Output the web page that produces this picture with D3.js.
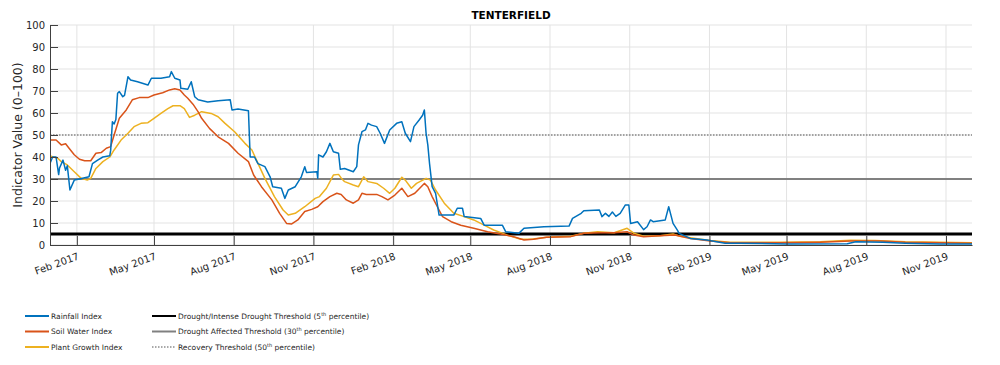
<!DOCTYPE html>
<html>
<head>
<meta charset="utf-8">
<script src="https://cdn.jsdelivr.net/npm/d3@7"></script>
<style>
  body { margin: 0; background: #fff; }
  text { font-family: "DejaVu Sans", sans-serif; fill: #262626; }
</style>
</head>
<body>
<script>
// Tenterfield drought indicators

// values
const rainfallIndex = [
  ["2017-01-01", 37], ["2017-01-04", 40], ["2017-01-08", 40], ["2017-01-11", 32], ["2017-01-12", 35],
  ["2017-01-16", 38.6], ["2017-01-19", 34], ["2017-01-21", 36], ["2017-01-24", 25], ["2017-01-29", 29.5],
  ["2017-02-04", 30], ["2017-02-15", 31], ["2017-02-19", 37], ["2017-02-25", 38.6], ["2017-03-03", 40],
  ["2017-03-11", 40.6], ["2017-03-12", 43], ["2017-03-14", 56], ["2017-03-16", 55], ["2017-03-18", 57],
  ["2017-03-20", 69], ["2017-03-22", 69.7], ["2017-03-26", 67.4], ["2017-03-28", 68], ["2017-04-01", 76.5],
  ["2017-04-04", 75], ["2017-04-12", 74.2], ["2017-04-24", 72.7], ["2017-04-28", 75.8], ["2017-05-09", 75.8],
  ["2017-05-19", 76.5], ["2017-05-21", 78.8], ["2017-05-25", 75.8], ["2017-05-31", 75], ["2017-06-01", 71.2],
  ["2017-06-09", 70.8], ["2017-06-13", 74.2], ["2017-06-17", 67.4], ["2017-06-21", 66], ["2017-07-02", 65],
  ["2017-07-14", 65.6], ["2017-07-28", 66], ["2017-07-30", 61.4], ["2017-08-06", 61.8], ["2017-08-18", 61],
  ["2017-08-20", 40], ["2017-08-25", 40], ["2017-08-29", 37], ["2017-09-06", 35.6], ["2017-09-12", 31],
  ["2017-09-15", 26.5], ["2017-09-25", 25.8], ["2017-09-29", 21.2], ["2017-10-03", 25], ["2017-10-11", 26.5],
  ["2017-10-18", 31], ["2017-10-22", 35.6], ["2017-10-24", 33], ["2017-11-05", 33.3], ["2017-11-06", 30.3],
  ["2017-11-07", 41], ["2017-11-12", 40], ["2017-11-16", 42.4], ["2017-11-20", 46.2], ["2017-11-24", 42.4],
  ["2017-11-30", 41.7], ["2017-12-02", 34.4], ["2017-12-07", 34.8], ["2017-12-17", 33.3], ["2017-12-21", 35.6],
  ["2017-12-23", 45.5], ["2017-12-27", 51.5], ["2017-12-31", 52.3], ["2018-01-03", 55.3], ["2018-01-07", 54.5],
  ["2018-01-13", 53.8], ["2018-01-17", 50.8], ["2018-01-22", 46.2], ["2018-01-28", 52.3], ["2018-02-05", 55.3],
  ["2018-02-11", 56], ["2018-02-15", 50.8], ["2018-02-21", 47], ["2018-02-25", 53.8], ["2018-03-03", 56.8],
  ["2018-03-07", 59], ["2018-03-09", 61.4], ["2018-03-11", 50.8], ["2018-03-13", 45.5], ["2018-03-15", 37],
  ["2018-03-18", 26.5], ["2018-03-22", 23.5], ["2018-03-26", 13.6], ["2018-04-12", 13.6], ["2018-04-16", 16.7],
  ["2018-04-22", 16.7], ["2018-04-24", 12.9], ["2018-05-13", 12.1], ["2018-05-17", 9], ["2018-06-07", 9],
  ["2018-06-11", 6], ["2018-06-26", 5.3], ["2018-07-02", 7.6], ["2018-07-25", 8.3], ["2018-08-23", 8.6],
  ["2018-08-27", 12.1], ["2018-09-06", 14.4], ["2018-09-09", 15.6], ["2018-09-27", 15.9], ["2018-09-30", 12.9],
  ["2018-10-04", 14.4], ["2018-10-08", 13], ["2018-10-12", 15], ["2018-10-16", 13], ["2018-10-21", 14.4],
  ["2018-10-27", 18.2], ["2018-10-31", 18.2], ["2018-11-02", 9.8], ["2018-11-10", 10.6], ["2018-11-17", 7],
  ["2018-11-21", 8.3], ["2018-11-25", 11.4], ["2018-11-28", 10.6], ["2018-12-12", 11.4], ["2018-12-16", 17.4],
  ["2018-12-19", 12.9], ["2018-12-21", 9.8], ["2018-12-26", 6.8], ["2018-12-28", 5.3], ["2019-01-10", 3],
  ["2019-01-29", 2.3], ["2019-02-19", 0.8], ["2019-03-08", 0.8], ["2019-05-01", 0.5], ["2019-07-10", 0.6],
  ["2019-07-20", 1.5], ["2019-08-20", 1.2], ["2019-09-15", 0.8], ["2019-10-25", 0.5], ["2019-12-01", 0.5]
];

const soilWaterIndex = [
  ["2017-01-01", 47.7], ["2017-01-08", 47.7], ["2017-01-14", 45.5], ["2017-01-19", 46], ["2017-01-23", 44],
  ["2017-01-29", 41], ["2017-02-04", 39], ["2017-02-10", 38.3], ["2017-02-17", 38.3], ["2017-02-23", 41.7],
  ["2017-03-01", 42], ["2017-03-07", 44], ["2017-03-12", 44.7], ["2017-03-16", 50], ["2017-03-22", 57.6],
  ["2017-03-30", 61.4], ["2017-04-06", 66], ["2017-04-14", 67], ["2017-04-24", 67], ["2017-05-01", 68.2],
  ["2017-05-11", 69.2], ["2017-05-19", 70.5], ["2017-05-25", 71], ["2017-05-31", 70.5], ["2017-06-05", 68.2],
  ["2017-06-09", 66.7], ["2017-06-15", 64], ["2017-06-21", 60.5], ["2017-06-25", 57.6], ["2017-07-04", 53],
  ["2017-07-14", 49.2], ["2017-07-26", 46.2], ["2017-08-06", 41.7], ["2017-08-18", 37.9], ["2017-08-24", 31.8],
  ["2017-09-02", 26.5], ["2017-09-14", 20.5], ["2017-09-23", 14.4], ["2017-10-01", 9.8], ["2017-10-07", 9.6],
  ["2017-10-14", 11.4], ["2017-10-22", 15.2], ["2017-10-30", 16.2], ["2017-11-06", 17.4], ["2017-11-12", 19.7],
  ["2017-11-20", 22], ["2017-11-28", 23.5], ["2017-12-03", 23], ["2017-12-09", 20.5], ["2017-12-17", 19],
  ["2017-12-23", 20.5], ["2017-12-27", 23.5], ["2018-01-01", 23], ["2018-01-13", 23], ["2018-01-19", 22],
  ["2018-01-26", 20.5], ["2018-02-03", 22.7], ["2018-02-11", 25.8], ["2018-02-18", 22], ["2018-02-26", 23.5],
  ["2018-03-09", 28], ["2018-03-13", 26.5], ["2018-03-18", 22], ["2018-03-24", 17.4], ["2018-03-30", 12.9],
  ["2018-04-09", 10.6], ["2018-04-20", 9], ["2018-05-05", 7.6], ["2018-05-21", 6], ["2018-05-24", 5.8],
  ["2018-06-05", 5], ["2018-06-20", 3.8], ["2018-07-02", 2.3], ["2018-07-13", 2.6], ["2018-07-28", 3.5],
  ["2018-08-25", 3.8], ["2018-09-09", 5.3], ["2018-09-28", 5.6], ["2018-10-14", 5.6], ["2018-10-29", 6],
  ["2018-11-06", 4.5], ["2018-11-17", 3.8], ["2018-12-06", 4.2], ["2018-12-23", 4.5], ["2019-01-10", 3],
  ["2019-02-02", 1.8], ["2019-02-25", 1], ["2019-04-24", 1], ["2019-06-09", 1.3], ["2019-07-14", 1.8],
  ["2019-08-17", 1.8], ["2019-09-15", 1.3], ["2019-10-25", 1], ["2019-12-01", 0.8]
];

const plantGrowthIndex = [
  ["2017-01-01", 40.5], ["2017-01-10", 39.4], ["2017-01-14", 37.9], ["2017-01-21", 36.4], ["2017-01-29", 33.3],
  ["2017-02-06", 30.3], ["2017-02-13", 29.5], ["2017-02-17", 30.3], ["2017-02-23", 34.8], ["2017-03-03", 37.9],
  ["2017-03-11", 40], ["2017-03-16", 43.2], ["2017-03-24", 47.7], ["2017-04-01", 50.8], ["2017-04-08", 53.8],
  ["2017-04-16", 55.3], ["2017-04-24", 55.6], ["2017-05-01", 57.6], ["2017-05-09", 59.8], ["2017-05-17", 62],
  ["2017-05-23", 63.3], ["2017-05-31", 63.3], ["2017-06-05", 62], ["2017-06-11", 58], ["2017-06-17", 59],
  ["2017-06-25", 60.6], ["2017-07-06", 59.8], ["2017-07-14", 58.3], ["2017-07-22", 55.3], ["2017-08-02", 51.5],
  ["2017-08-14", 46.2], ["2017-08-22", 43.2], ["2017-08-29", 37.1], ["2017-09-06", 30.3], ["2017-09-17", 22],
  ["2017-09-27", 15.9], ["2017-10-03", 13.6], ["2017-10-11", 14.4], ["2017-10-22", 17.4], ["2017-11-03", 21.2],
  ["2017-11-08", 22], ["2017-11-16", 25.8], ["2017-11-24", 31.8], ["2017-11-30", 32.1], ["2017-12-03", 30.5],
  ["2017-12-07", 28.8], ["2017-12-17", 27.3], ["2017-12-23", 26.5], ["2017-12-29", 31], ["2018-01-03", 28.8],
  ["2018-01-13", 28], ["2018-01-21", 25.8], ["2018-01-28", 23.5], ["2018-02-03", 25.8], ["2018-02-11", 30.8],
  ["2018-02-15", 29.5], ["2018-02-22", 25.8], ["2018-02-28", 28], ["2018-03-11", 30.3], ["2018-03-16", 29.5],
  ["2018-03-22", 25], ["2018-04-01", 19], ["2018-04-12", 14.4], ["2018-04-24", 12.9], ["2018-05-05", 11.4],
  ["2018-05-17", 9], ["2018-05-28", 6.8], ["2018-06-13", 4.5], ["2018-06-28", 2.6], ["2018-07-10", 2.6],
  ["2018-07-28", 3.5], ["2018-08-25", 4], ["2018-09-09", 5.3], ["2018-09-25", 6], ["2018-10-14", 5.6],
  ["2018-10-29", 7.6], ["2018-11-06", 5.3], ["2018-11-17", 4], ["2018-12-06", 4.2], ["2018-12-21", 5],
  ["2018-12-29", 4], ["2019-01-16", 3], ["2019-02-02", 2], ["2019-02-25", 1.2], ["2019-04-24", 1.2],
  ["2019-06-09", 1.5], ["2019-07-14", 2.2], ["2019-08-11", 2], ["2019-09-15", 1.5], ["2019-10-25", 1.3],
  ["2019-12-01", 1]
];

const xTickDates = ["2017-02-01", "2017-05-01", "2017-08-01", "2017-11-01", "2018-02-01", "2018-05-01",
                    "2018-08-01", "2018-11-01", "2019-02-01", "2019-05-01", "2019-08-01", "2019-11-01"];
const yTicks = [0, 10, 20, 30, 40, 50, 60, 70, 80, 90, 100];
const thresholdValues = [5, 30, 50];
const thresholdNames = ["Drought/Intense Drought Threshold (5", "Drought Affected Threshold (30", "Recovery Threshold (50"];
const seriesNames = ["Rainfall Index", "Soil Water Index", "Plant Growth Index"];

const outerWidth = 1000;
const outerHeight = 365;
const margin = {top: 25, right: 28, left: 50, bottom: 120};
const innerWidth = outerWidth - margin.left - margin.right;
const innerHeight = outerHeight - margin.top - margin.bottom;

const parse = d3.timeParse("%Y-%m-%d");
const fmt = d3.timeFormat("%b %Y");
const colors = ["#0072BD", "#D95319", "#EDB120"];

const svg = d3.select("body").append("svg")
    .attr("width", outerWidth)
    .attr("height", outerHeight);

const inner = svg.append("g")
    .attr("transform", "translate(" + margin.left + "," + margin.top + ")");

const x = d3.scaleTime()
    .domain([parse("2017-01-01"), parse("2019-12-01")])
    .range([0, innerWidth]);

const y = d3.scaleLinear()
    .domain([0, 100])
    .range([innerHeight, 0]);

// grid
inner.append("g").selectAll("line")
    .data(yTicks)
    .enter().append("line")
    .attr("x1", 0).attr("x2", innerWidth)
    .attr("y1", d => y(d)).attr("y2", d => y(d))
    .style("stroke", "#e3e3e3");

inner.append("g").selectAll("line")
    .data(xTickDates)
    .enter().append("line")
    .attr("x1", d => x(parse(d))).attr("x2", d => x(parse(d)))
    .attr("y1", 0).attr("y2", innerHeight)
    .style("stroke", "#e3e3e3");

// threshold lines
const thresholdStyle = [
  {stroke: "#000000", width: 2.8, dash: null},
  {stroke: "#808080", width: 2.2, dash: null},
  {stroke: "#555555", width: 1.2, dash: "1.5,1.5"}
];

inner.append("g").selectAll("line")
    .data(thresholdValues)
    .enter().append("line")
    .attr("x1", 0).attr("x2", innerWidth)
    .attr("y1", d => y(d)).attr("y2", d => y(d))
    .style("stroke", (d, i) => thresholdStyle[i].stroke)
    .style("stroke-width", (d, i) => thresholdStyle[i].width)
    .style("stroke-dasharray", (d, i) => thresholdStyle[i].dash);

// series
inner.append("clipPath").attr("id", "plot-clip")
    .append("rect").attr("width", innerWidth).attr("height", innerHeight + 1);

const line = d3.line()
    .x(d => x(parse(d[0])))
    .y(d => y(d[1]));

const allSeries = [rainfallIndex, soilWaterIndex, plantGrowthIndex];

inner.append("g").attr("clip-path", "url(#plot-clip)")
    .selectAll("path")
    .data(allSeries.slice().reverse())
    .enter().append("path")
    .attr("d", line)
    .style("fill", "none")
    .style("stroke", (d, i) => colors[2 - i])
    .style("stroke-width", 1.5)
    .style("stroke-linejoin", "round");

// axes (ticks point inward, labels drawn separately)
inner.append("g")
    .attr("transform", "translate(0," + innerHeight + ")")
    .call(d3.axisBottom(x)
        .tickValues(xTickDates.map(parse))
        .tickSize(-9)
        .tickSizeOuter(0)
        .tickFormat(""));

inner.append("g")
    .call(d3.axisLeft(y)
        .tickValues(yTicks)
        .tickSize(-8)
        .tickSizeOuter(0)
        .tickFormat(""));

inner.selectAll(".domain, .tick line")
    .style("stroke", "#404040");

const labels = svg.append("g").style("font-size", "10px");

labels.selectAll(".xlab")
    .data(xTickDates)
    .enter().append("text")
    .attr("class", "xlab")
    .attr("text-anchor", "end")
    .attr("transform", d => "translate(" + (margin.left + x(parse(d)) + 3) + "," + (margin.top + innerHeight + 14) + ") rotate(-20)")
    .text(d => fmt(parse(d)));

labels.selectAll(".ylab")
    .data(yTicks)
    .enter().append("text")
    .attr("class", "ylab")
    .attr("text-anchor", "end")
    .attr("x", margin.left - 5)
    .attr("y", d => margin.top + y(d))
    .attr("dy", "0.35em")
    .text(d => d);

// title and y label
svg.append("text")
    .attr("x", margin.left + innerWidth / 2)
    .attr("y", 19)
    .attr("text-anchor", "middle")
    .style("font-weight", "bold")
    .style("font-size", "10.5px")
    .style("fill", "#000")
    .text("TENTERFIELD");

svg.append("text")
    .attr("transform", "translate(22," + (margin.top + innerHeight / 2) + ") rotate(-90)")
    .attr("text-anchor", "middle")
    .style("font-size", "12.5px")
    .text("Indicator Value (0\u2013100)");

// legend
const legend = svg.append("g").style("font-size", "7.5px");

const seriesItems = legend.selectAll(".series-item")
    .data(seriesNames)
    .enter().append("g")
    .attr("class", "series-item")
    .attr("transform", (d, i) => "translate(25," + (316 + i * 15.5) + ")");

seriesItems.append("line")
    .attr("x1", 0).attr("x2", 24)
    .style("stroke", (d, i) => colors[i])
    .style("stroke-width", 2);

seriesItems.append("text")
    .attr("x", 26).attr("dy", "0.35em")
    .text(d => d);

const threshItems = legend.selectAll(".thresh-item")
    .data(thresholdNames)
    .enter().append("g")
    .attr("class", "thresh-item")
    .attr("transform", (d, i) => "translate(152," + (316 + i * 15.5) + ")");

threshItems.append("line")
    .attr("x1", 0).attr("x2", 24)
    .style("stroke", (d, i) => thresholdStyle[i].stroke)
    .style("stroke-width", (d, i) => Math.min(thresholdStyle[i].width, 2))
    .style("stroke-dasharray", (d, i) => thresholdStyle[i].dash);

const threshText = threshItems.append("text")
    .attr("x", 26).attr("dy", "0.35em");
threshText.append("tspan").text(d => d);
threshText.append("tspan").text("th")
    .style("font-size", "5px")
    .style("baseline-shift", "3px");
threshText.append("tspan").text(" percentile)");
</script>
</body>
</html>
